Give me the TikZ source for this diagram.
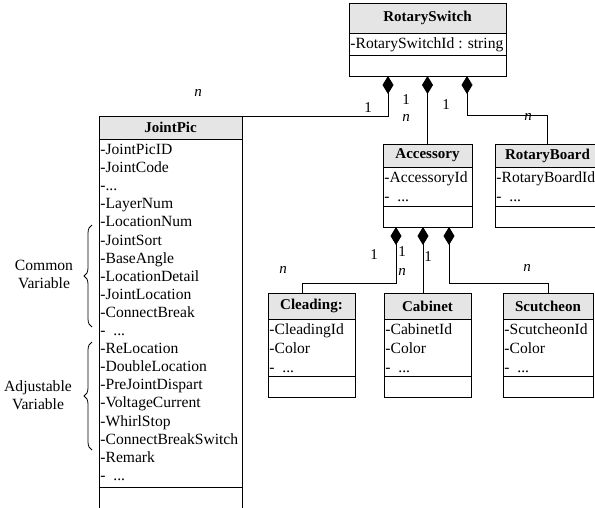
\documentclass[tikz,border=0pt]{standalone}
\usepackage{fontspec}
\setmainfont{Liberation Serif}
\usetikzlibrary{arrows.meta,calc,decorations.pathreplacing}

\definecolor{hdrgray}{gray}{0.9}
\newcommand\basefont{\fontsize{15pt}{18pt}\selectfont}
\newcommand\attrfont{\fontsize{15.6pt}{18pt}\selectfont}
\newcommand\rowstep{18.1}
\newcommand\tdots{...}
\newcommand\gapdots{\hspace{0.5em}...}

% UML class box: name, left x, width, top, header bottom, attribute bottom, bottom, title, attributes
\newcommand\umlclass[9]{%
  \node[hdr, minimum width=#3, minimum height=#5-#4] (#1-h) at (#2,#4) {#8};
  \node[sect, minimum width=#3, minimum height=#6-#5] (#1-a) at (#2,#5) {};
  \node[sect, minimum width=#3, minimum height=#7-#6] (#1-m) at (#2,#6) {};
  \foreach \t [count=\i from 0] in {#9}
    \node[atxt] (#1-r\i) at ($(#1-a.north west)+(1.2,15.5+\rowstep*\i)$) {\t};
}

\begin{document}
\begin{tikzpicture}[x=1pt,y=-1pt,
  font=\basefont,
  sect/.style={draw, line width=0.9pt, inner sep=0pt, outer sep=0pt, anchor=north west},
  hdr/.style={sect, fill=hdrgray, font=\basefont\bfseries},
  atxt/.style={anchor=base west, inner sep=0pt, font=\attrfont},
  lbl/.style={inner sep=0pt},
  comp/.style={draw, line width=0.9pt, {Diamond[length=18pt,width=11pt]}-},
  curly/.style={decorate, decoration={brace, amplitude=8pt}, line width=0.8pt}]

\useasboundingbox (0,0) rectangle (595,507);

% classes
\umlclass{rs}{349}{157}{3}{33}{55}{76}{RotarySwitch}{-RotarySwitchId : string}
\umlclass{jp}{99}{143}{116}{139}{487}{510}{JointPic}{-JointPicID,-JointCode,-\tdots,-LayerNum,-LocationNum,-JointSort,-BaseAngle,-LocationDetail,-JointLocation,-ConnectBreak,-\gapdots,-ReLocation,-DoubleLocation,-PreJointDispart,-VoltageCurrent,-WhirlStop,-ConnectBreakSwitch,-Remark,-\gapdots}
\renewcommand\rowstep{19}
\umlclass{acc}{383}{89}{144}{167}{206}{227}{Accessory}{-AccessoryId,-\gapdots}
\umlclass{rb}{495}{105}{144}{167}{206}{227}{RotaryBoard}{-RotaryBoardId,-\gapdots}
\umlclass{cl}{268}{87}{293}{319}{376}{397}{Cleading:}{-CleadingId,-Color,-\gapdots}
\umlclass{cab}{384}{87}{293}{319}{376}{397}{Cabinet}{-CabinetId,-Color,-\gapdots}
\umlclass{sc}{503}{90}{293}{319}{376}{397}{Scutcheon}{-ScutcheonId,-Color,-\gapdots}

% compositions from RotarySwitch
\draw[comp] ($(rs-m.south west)+(39,0)$) |- (jp-h.north east);
\draw[comp] (rs-m.south -| acc-h.north) -- (acc-h.north);
\draw[comp] ($(rs-m.south west)+(118,0)$) |- ($(rb-h.north)+(0,-29)$) -- (rb-h.north);

% compositions from Accessory
\draw[comp] ($(acc-m.south west)+(13,0)$) |- ($(cl-h.north west)+(34,-10)$) -- ($(cl-h.north west)+(34,0)$);
\draw[comp] ($(acc-m.south west)+(40,0)$) -- ($(cab-h.north west)+(39,0)$);
\draw[comp] ($(acc-m.south west)+(66,0)$) |- ($(sc-h.north)+(0,-10)$) -- (sc-h.north);

% multiplicities
\node[lbl] (m1) at (198,93) {\textit{n}};
\node[lbl] (m2) at (368,108) {1};
\node[lbl] (m3) at (406,100) {1};
\node[lbl] (m4) at (406,118) {\textit{n}};
\node[lbl] (m5) at (446,105) {1};
\node[lbl] (m6) at (528,117) {\textit{n}};
\node[lbl] (m7) at (374,255) {1};
\node[lbl] (m8) at (402,252) {1};
\node[lbl] (m9) at (402,272) {\textit{n}};
\node[lbl] (m10) at (428,257) {1};
\node[lbl] (m11) at (283,270) {\textit{n}};
\node[lbl] (m12) at (527,268) {\textit{n}};

% attribute groups
\draw[curly] (92,327) -- (92,225);
\draw[curly] (92,450) -- (92,342);
\node[align=center, inner sep=0pt, font=\attrfont] (common) at (44,274) {Common\\Variable};
\node[align=center, inner sep=0pt, font=\attrfont] (adjust) at (38,395) {Adjustable\\Variable};
\end{tikzpicture}
\end{document}
